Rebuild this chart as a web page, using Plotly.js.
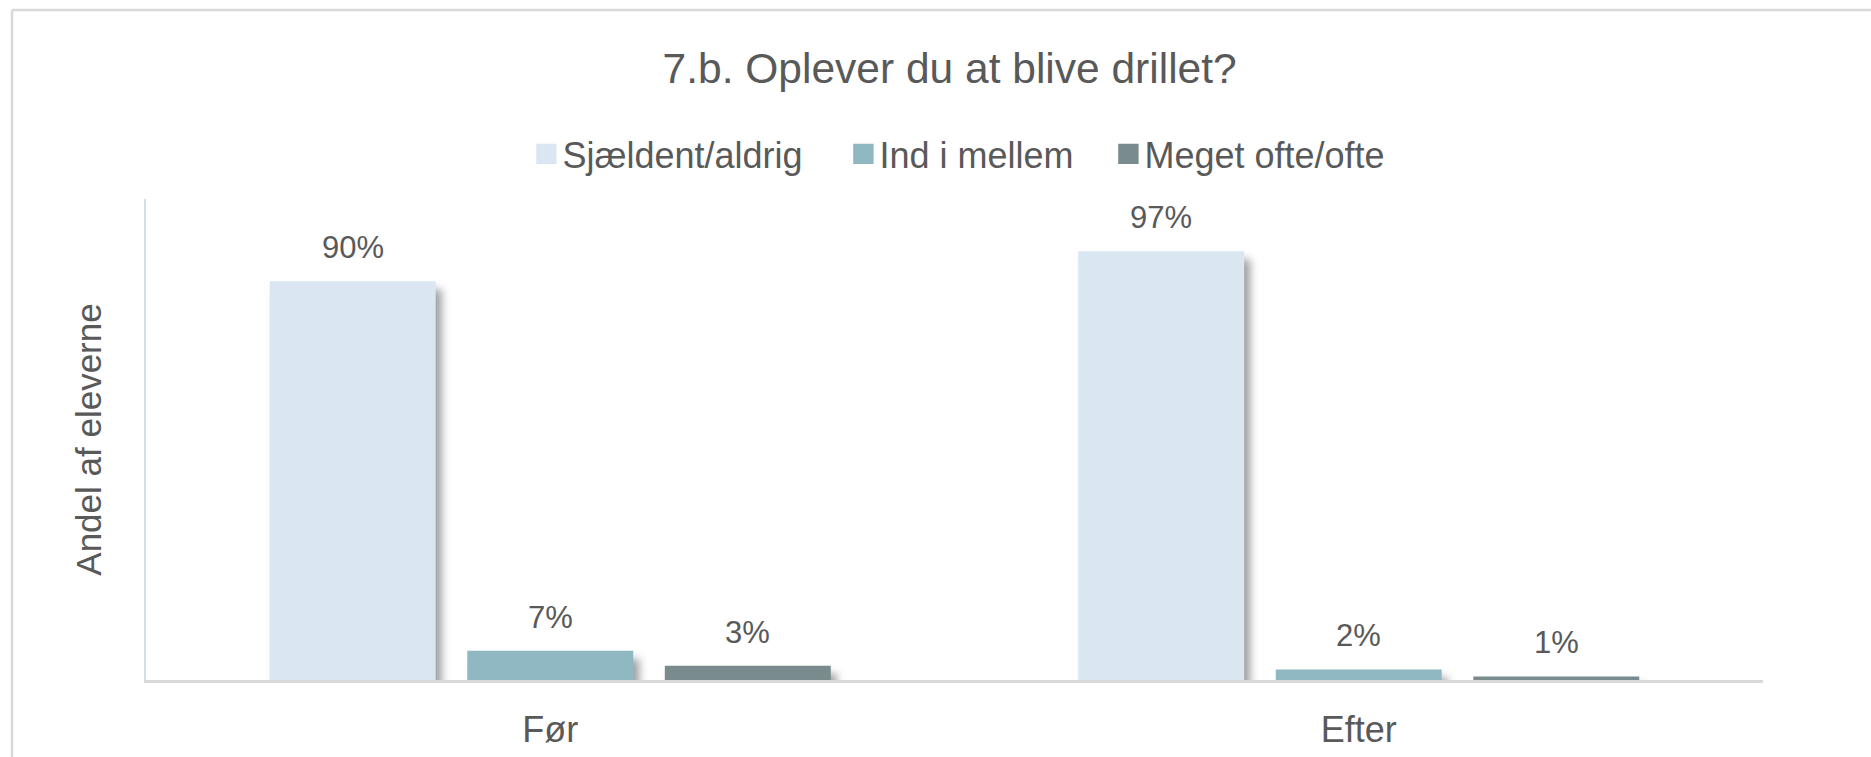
<!DOCTYPE html>
<html>
<head>
<meta charset="utf-8">
<script src="https://cdn.plot.ly/plotly-3.0.1.min.js"></script>
<style>
  html, body { margin: 0; padding: 0; background: #ffffff; }
  #chart { width: 1871px; height: 757px; }
  .barlayer .point path { filter: drop-shadow(6px 8px 4px rgba(0,0,0,0.38)); }
  .legend .legendpoints path { transform: translate(24px, 0px) scale(1.7); }
  .legend g.traces:nth-of-type(1) { translate: -8px 0px; }
  .legend g.traces:nth-of-type(2) { translate: 17px 0px; }
  .legend g.traces:nth-of-type(3) { translate: -10px 0px; }
</style>
</head>
<body>
<div id="chart"></div>
<script>
// ---- data ----
const chartTitle = "7.b. Oplever du at blive drillet?";
const yAxisTitle = "Andel af eleverne";
const categories = ["Før", "Efter"];
const seriesNames = ["Sjældent/aldrig", "Ind i mellem", "Meget ofte/ofte"];
const sjaeldentAldrig = [0.902, 0.970];
const indIMellem = [0.066, 0.024];
const megetOfteOfte = [0.032, 0.008];
const seriesColors = ["#DAE7F3", "#8FB8C2", "#7A8B8E"];

const seriesValues = [sjaeldentAldrig, indIMellem, megetOfteOfte];
const textColor = "#595959";
const fontFamily = "'Liberation Sans', Arial, sans-serif";
const barGap = 0.267;
const barGroupGap = 0.16;

const traces = seriesValues.map((vals, k) => ({
  type: "bar",
  name: seriesNames[k],
  x: categories,
  y: vals,
  marker: { color: seriesColors[k], line: { width: 0 } },
  hoverinfo: "skip"
}));

// data labels above each bar, positioned from the data and bar layout
const slot = (1 - barGap) / seriesValues.length;
const annotations = [];
seriesValues.forEach((vals, k) => {
  vals.forEach((v, i) => {
    annotations.push({
      xref: "x", yref: "y",
      x: i + (k - (seriesValues.length - 1) / 2) * slot,
      y: v,
      text: Math.round(v * 100) + "%",
      showarrow: false,
      yanchor: "bottom",
      yshift: 14,
      font: { family: fontFamily, size: 31, color: textColor }
    });
  });
});

const layout = {
  width: 1871,
  height: 757,
  paper_bgcolor: "#ffffff",
  plot_bgcolor: "#ffffff",
  margin: { l: 146, r: 108, t: 199, b: 77, pad: 0 },
  barmode: "group",
  bargap: barGap,
  bargroupgap: barGroupGap,
  font: { family: fontFamily, color: textColor },
  title: {
    text: chartTitle,
    xref: "paper", x: 0.497, xanchor: "center",
    yref: "container", y: 1 - 68 / 757, yanchor: "middle",
    font: { family: fontFamily, size: 42.5, color: textColor }
  },
  legend: {
    orientation: "h",
    xref: "paper", x: 0.5086, xanchor: "center",
    yref: "paper", y: 1.0936, yanchor: "middle",
    font: { family: fontFamily, size: 36, color: textColor },
    itemwidth: 30,
    entrywidth: 247,
    entrywidthmode: "pixels",
    tracegroupgap: 0,
    bgcolor: "rgba(0,0,0,0)"
  },
  xaxis: {
    type: "category",
    showline: true,
    linecolor: "#D9D9D9",
    linewidth: 2.5,
    showgrid: false,
    zeroline: false,
    ticks: "",
    ticklabelstandoff: 16,
    tickfont: { family: fontFamily, size: 36, color: textColor },
    automargin: false,
    fixedrange: true
  },
  yaxis: {
    range: [0, 1.088],
    showline: true,
    linecolor: "#D3DFEC",
    linewidth: 2.5,
    showgrid: false,
    zeroline: false,
    showticklabels: false,
    ticks: "",
    automargin: false,
    fixedrange: true,
    title: {
      text: yAxisTitle,
      standoff: 32,
      font: { family: fontFamily, size: 35, color: textColor }
    }
  },
  annotations: annotations,
  shapes: [
    {
      type: "line", xref: "paper", yref: "paper",
      x0: (12 - 146) / 1617, x1: 2,
      y0: 1 + (199 - 10) / 481, y1: 1 + (199 - 10) / 481,
      line: { color: "#D9D9D9", width: 2.5 }, layer: "below"
    },
    {
      type: "line", xref: "paper", yref: "paper",
      x0: (12 - 146) / 1617, x1: (12 - 146) / 1617,
      y0: -1, y1: 1 + (199 - 10) / 481,
      line: { color: "#D9D9D9", width: 2.5 }, layer: "below"
    }
  ],
  showlegend: true
};

Plotly.newPlot("chart", traces, layout, { displayModeBar: false, staticPlot: true });
</script>
</body>
</html>
